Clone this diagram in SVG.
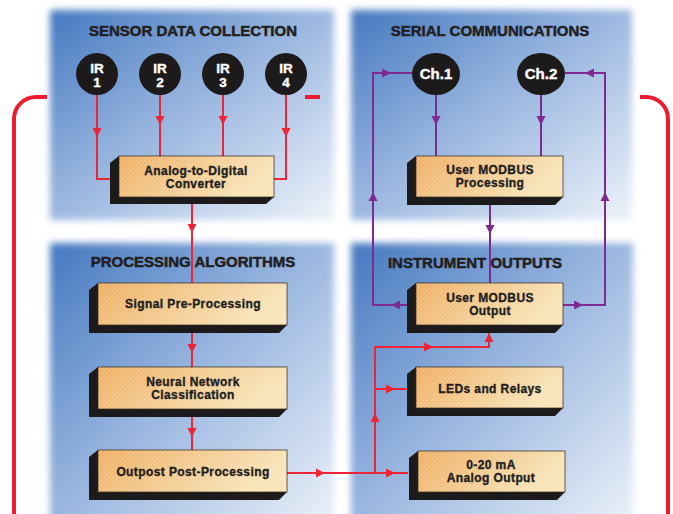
<svg xmlns="http://www.w3.org/2000/svg" xmlns:xlink="http://www.w3.org/1999/xlink" width="673" height="514" viewBox="0 0 673 514">
<defs>
<linearGradient id="pg" x1="0" y1="0" x2="1" y2="1">
<stop offset="0" stop-color="#4579c0"/>
<stop offset="0.45" stop-color="#95b3de"/>
<stop offset="1" stop-color="#eef3fa"/>
</linearGradient>
<linearGradient id="fg" x1="0" y1="0" x2="1" y2="0.3">
<stop offset="0" stop-color="#eeac5e"/>
<stop offset="1" stop-color="#f8e3b6"/>
</linearGradient>
<pattern id="hatch" width="3" height="3" patternUnits="userSpaceOnUse" patternTransform="rotate(45)">
<rect width="1" height="3" fill="#ffffff" opacity="0.25"/>
</pattern>
<filter id="soft" x="-5%" y="-5%" width="110%" height="110%">
<feGaussianBlur stdDeviation="3.5"/>
</filter>
<path id="ah" d="M4,0 L-5,-4.5 L-5,4.5 Z"/>
<style>
.title{font-family:"Liberation Sans",Arial,sans-serif;font-weight:bold;font-size:15px;fill:#231f20;stroke:#231f20;stroke-width:0.5;text-anchor:middle}
.lbl{font-family:"Liberation Sans",Arial,sans-serif;font-weight:bold;font-size:12px;letter-spacing:0.4px;fill:#231f20;stroke:#231f20;stroke-width:0.35;text-anchor:middle}
.wt{font-family:"Liberation Sans",Arial,sans-serif;font-weight:bold;font-size:13.5px;fill:#ffffff;stroke:#ffffff;stroke-width:0.4;text-anchor:middle}
.ext{fill:#1c1a1a}
.face{fill:url(#fg);stroke:#3a2e22;stroke-width:0.8}
.hat{fill:url(#hatch)}
.red{fill:none;stroke:#ee2536;stroke-width:2}
.pur{fill:none;stroke:#7d2b91;stroke-width:2}
.big{fill:none;stroke:#ee1b2e;stroke-width:4}
.ar{fill:#ee2536}
.ap{fill:#7d2b91}
.dot{fill:#1c1a1a}
</style>
</defs>
<rect width="673" height="514" fill="#ffffff"/>

<g id="panels">
<rect x="50" y="10" width="284" height="210" fill="url(#pg)" filter="url(#soft)"/>
<rect x="351" y="10" width="281" height="210" fill="url(#pg)" filter="url(#soft)"/>
<rect x="50" y="243" width="284" height="290" fill="url(#pg)" filter="url(#soft)"/>
<rect x="351" y="243" width="282" height="290" fill="url(#pg)" filter="url(#soft)"/>
<text class="title" x="193" y="36">SENSOR DATA COLLECTION</text>
<text class="title" x="490" y="36">SERIAL COMMUNICATIONS</text>
<text class="title" x="193" y="267">PROCESSING ALGORITHMS</text>
<text class="title" x="475" y="268">INSTRUMENT OUTPUTS</text>
</g>

<g id="connectors">
<path class="big" d="M47,97 H36 A22,22 0 0 0 14,119 V514"/>
<path class="big" d="M640,97 H646 A22,22 0 0 1 668,119 V514"/>
<path class="big" d="M305,97 H320"/>
<path class="red" d="M97,95 V179 H110"/>
<path class="red" d="M160,95 V156"/>
<path class="red" d="M223,95 V156"/>
<path class="red" d="M286,95 V179 H274"/>
<path class="red" d="M192,204 V283"/>
<path class="red" d="M192,333 V367"/>
<path class="red" d="M192,417 V450"/>
<path class="red" d="M287,473 H408"/>
<path class="red" d="M375,473 V347 H489 V333"/>
<path class="red" d="M375,389 H407"/>
<path class="pur" d="M436,94 V156"/>
<path class="pur" d="M541,94 V156"/>
<path class="pur" d="M490,205 V283"/>
<path class="pur" d="M407,305 H373 V73 H413"/>
<path class="pur" d="M563,305 H605 V73 H565"/>
<use xlink:href="#ah" class="ar" transform="translate(97,133) rotate(90)"/>
<use xlink:href="#ah" class="ar" transform="translate(160,121) rotate(90)"/>
<use xlink:href="#ah" class="ar" transform="translate(223,121) rotate(90)"/>
<use xlink:href="#ah" class="ar" transform="translate(286,133) rotate(90)"/>
<use xlink:href="#ah" class="ar" transform="translate(192,229) rotate(90)"/>
<use xlink:href="#ah" class="ar" transform="translate(192,349) rotate(90)"/>
<use xlink:href="#ah" class="ar" transform="translate(192,433) rotate(90)"/>
<use xlink:href="#ah" class="ar" transform="translate(321,473)"/>
<use xlink:href="#ah" class="ar" transform="translate(391,473)"/>
<use xlink:href="#ah" class="ar" transform="translate(375,417) rotate(-90)"/>
<use xlink:href="#ah" class="ar" transform="translate(391,389)"/>
<use xlink:href="#ah" class="ar" transform="translate(429,347)"/>
<use xlink:href="#ah" class="ar" transform="translate(489,337) rotate(-90)"/>
<use xlink:href="#ah" class="ap" transform="translate(436,121) rotate(90)"/>
<use xlink:href="#ah" class="ap" transform="translate(541,121) rotate(90)"/>
<use xlink:href="#ah" class="ap" transform="translate(490,230) rotate(90)"/>
<use xlink:href="#ah" class="ap" transform="translate(395,305) rotate(180)"/>
<use xlink:href="#ah" class="ap" transform="translate(373,196) rotate(-90)"/>
<use xlink:href="#ah" class="ap" transform="translate(387,73)"/>
<use xlink:href="#ah" class="ap" transform="translate(579,305)"/>
<use xlink:href="#ah" class="ap" transform="translate(605,196) rotate(-90)"/>
<use xlink:href="#ah" class="ap" transform="translate(589,73) rotate(180)"/>
</g>

<g id="ir1"><circle class="dot" cx="97" cy="74" r="21"/><text class="wt" x="97" y="73">IR</text><text class="wt" x="97" y="87">1</text></g>
<g id="ir2"><circle class="dot" cx="160" cy="74" r="21"/><text class="wt" x="160" y="73">IR</text><text class="wt" x="160" y="87">2</text></g>
<g id="ir3"><circle class="dot" cx="223" cy="74" r="21"/><text class="wt" x="223" y="73">IR</text><text class="wt" x="223" y="87">3</text></g>
<g id="ir4"><circle class="dot" cx="286" cy="74" r="21"/><text class="wt" x="286" y="73">IR</text><text class="wt" x="286" y="87">4</text></g>
<g id="ch1"><ellipse class="dot" cx="436" cy="74" rx="24" ry="21"/><text class="wt" x="436" y="79" style="font-size:15px">Ch.1</text></g>
<g id="ch2"><ellipse class="dot" cx="541" cy="74" rx="24" ry="21"/><text class="wt" x="541" y="79" style="font-size:15px">Ch.2</text></g>

<g id="adc">
<polygon class="ext" points="119,156 110,163 110,204 266,204 274,197 274,156"/>
<rect class="face" x="119" y="156" width="155" height="41"/><rect class="hat" x="119" y="156" width="155" height="41"/>
<text class="lbl" x="196" y="175">Analog-to-Digital</text><text class="lbl" x="196" y="188">Converter</text>
</g>
<g id="sigpre">
<polygon class="ext" points="98,283 89,290 89,333 279,333 287,325 287,283"/>
<rect class="face" x="98" y="283" width="189" height="42"/><rect class="hat" x="98" y="283" width="189" height="42"/>
<text class="lbl" x="193" y="308">Signal Pre-Processing</text>
</g>
<g id="neural">
<polygon class="ext" points="98,367 89,374 89,417 279,417 287,409 287,367"/>
<rect class="face" x="98" y="367" width="189" height="42"/><rect class="hat" x="98" y="367" width="189" height="42"/>
<text class="lbl" x="193" y="386">Neural Network</text><text class="lbl" x="193" y="399">Classification</text>
</g>
<g id="outpost">
<polygon class="ext" points="98,450 89,457 89,500 279,500 287,492 287,450"/>
<rect class="face" x="98" y="450" width="189" height="42"/><rect class="hat" x="98" y="450" width="189" height="42"/>
<text class="lbl" x="193" y="476">Outpost Post-Processing</text>
</g>
<g id="mbproc">
<polygon class="ext" points="416,156 407,163 407,205 555,205 563,197 563,156"/>
<rect class="face" x="416" y="156" width="147" height="41"/><rect class="hat" x="416" y="156" width="147" height="41"/>
<text class="lbl" x="490" y="174">User MODBUS</text><text class="lbl" x="490" y="187">Processing</text>
</g>
<g id="mbout">
<polygon class="ext" points="416,283 407,290 407,333 555,333 563,325 563,283"/>
<rect class="face" x="416" y="283" width="147" height="42"/><rect class="hat" x="416" y="283" width="147" height="42"/>
<text class="lbl" x="490" y="302">User MODBUS</text><text class="lbl" x="490" y="315">Output</text>
</g>
<g id="leds">
<polygon class="ext" points="416,367 407,374 407,416 555,416 563,408 563,367"/>
<rect class="face" x="416" y="367" width="147" height="41"/><rect class="hat" x="416" y="367" width="147" height="41"/>
<text class="lbl" x="490" y="393">LEDs and Relays</text>
</g>
<g id="analog">
<polygon class="ext" points="418,451 409,458 409,500 557,500 565,492 565,451"/>
<rect class="face" x="418" y="451" width="147" height="41"/><rect class="hat" x="418" y="451" width="147" height="41"/>
<text class="lbl" x="491" y="469">0-20 mA</text><text class="lbl" x="491" y="482">Analog Output</text>
</g>
</svg>
